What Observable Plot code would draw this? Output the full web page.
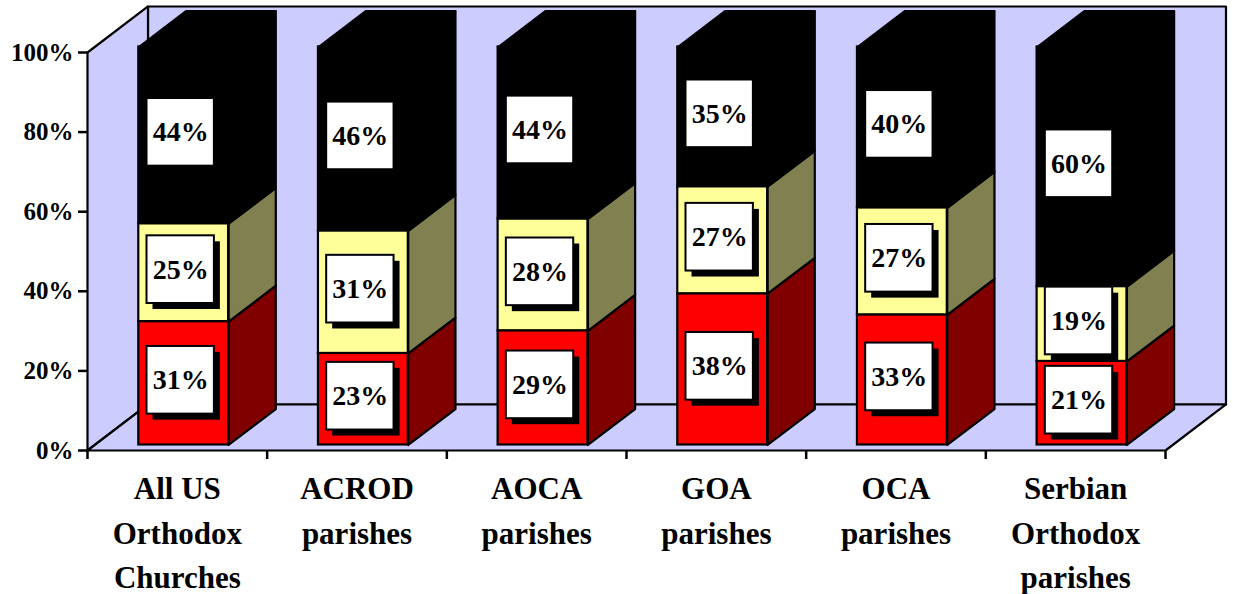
<!DOCTYPE html>
<html>
<head>
<meta charset="utf-8">
<script src="https://cdn.jsdelivr.net/npm/d3@7"></script>
<script src="https://cdn.jsdelivr.net/npm/@observablehq/plot@0.6"></script>
<style>
html,body{margin:0;padding:0;background:#fff;color:#000}
svg{display:block}
</style>
</head>
<body>
<div id="chart"></div>
<script>
const categories = ["All US\nOrthodox\nChurches","ACROD\nparishes","AOCA\nparishes","GOA\nparishes","OCA\nparishes","Serbian\nOrthodox\nparishes"];
const redValues = [31,23,28.7,38,32.7,21];
const yellowValues = [24.6,30.8,28.1,26.9,26.9,18.8];
const blackValues = [44.4,46.2,43.2,35.1,40.4,60.2];
const redLabels = ["31%","23%","29%","38%","33%","21%"];
const yellowLabels = ["25%","31%","28%","27%","27%","19%"];
const blackLabels = ["44%","46%","44%","35%","40%","60%"];
const yTicks = [0,20,40,60,80,100];
const xTicks = [0,1,2,3,4,5,6];

// oblique 3D projection, in data units
const depthX = 0.3367, depthY = 11.56;
const frontT = 0.12, backT = 0.9;
const barLeft = 0.245, barRight = 0.745;
const boxW = 0.375, boxH = 17;
const serif = "'Liberation Serif', serif";
const P = (x, v, t) => ({x: x + t * depthX, y: v + t * depthY});
const poly = (id, pts) => pts.map(p => ({...p, id}));

const wallMark = pts => Plot.line(poly("w", pts), {x:"x", y:"y", z:"id", fill:"#CCCCFF", stroke:"#000", strokeWidth:2.2, curve:"linear-closed"});

const series = [
  {vals:redValues, front:"#FF0000", side:"#800000", labels:redLabels},
  {vals:yellowValues, front:"#FFFF99", side:"#808050", labels:yellowLabels},
  {vals:blackValues, front:"#000000", side:"#000000", labels:blackLabels}
];
categories.forEach((_, i) => {
  let b = 0;
  series.forEach(s => { s.rows = s.rows || []; 
    s.rows.push({i, y0:b, y1:b+s.vals[i], label:s.labels[i]}); b += s.vals[i]; });
});

const barMarks = series.flatMap((s) => {
  const front = s.rows.map(r => {
    const a = P(r.i+barLeft, r.y0, frontT), c = P(r.i+barRight, r.y1, frontT);
    return {x1:a.x, x2:c.x, y1:a.y, y2:c.y};
  });
  const side = s.rows.flatMap(r => poly("s"+r.i, [
    P(r.i+barRight, r.y0, frontT), P(r.i+barRight, r.y1, frontT),
    P(r.i+barRight, r.y1, backT), P(r.i+barRight, r.y0, backT)]));
  return [
    Plot.line(side, {x:"x", y:"y", z:"id", fill:s.side, stroke:"#000", strokeWidth:2.2, curve:"linear-closed"}),
    Plot.rect(front, {x1:"x1", x2:"x2", y1:"y1", y2:"y2", fill:s.front, stroke:"#000", strokeWidth:2.2})
  ];
});

const tops = series[2].rows.flatMap(r => poly("t"+r.i, [
  P(r.i+barLeft, r.y1, frontT), P(r.i+barRight, r.y1, frontT),
  P(r.i+barRight, r.y1, backT), P(r.i+barLeft, r.y1, backT)]));

const boxes = series.flatMap(s => s.rows.map(r => {
  const c = P(r.i+(barLeft+barRight)/2, (r.y0+r.y1)/2, frontT);
  return {x1:c.x-boxW/2, x2:c.x+boxW/2, y1:c.y-boxH/2, y2:c.y+boxH/2, cx:c.x, cy:c.y, label:r.label};
}));

const chart = Plot.plot({
  width:1233, height:594,
  marginLeft:87, marginRight:68, marginTop:52, marginBottom:144,
  style:{background:"#fff", overflow:"visible", fontFamily:serif},
  x:{domain:[0,6], axis:null},
  y:{domain:[0,100], axis:null},
  marks:[
    wallMark([P(0,0,1),P(6,0,1),P(6,100,1),P(0,100,1)]),
    wallMark([P(0,0,0),P(0,0,1),P(0,100,1),P(0,100,0)]),
    wallMark([P(0,0,0),P(6,0,0),P(6,0,1),P(0,0,1)]),
    ...barMarks,
    Plot.line(tops, {x:"x", y:"y", z:"id", fill:"#000", stroke:"#000", strokeWidth:2, curve:"linear-closed"}),
    Plot.rect(boxes, {x1:"x1", x2:"x2", y1:"y1", y2:"y2", fill:"#000", dx:3, dy:3}),
    Plot.rect(boxes, {x1:"x1", x2:"x2", y1:"y1", y2:"y2", fill:"#fff", stroke:"#000", strokeWidth:2, dx:-3, dy:-3}),
    Plot.text(boxes, {x:"cx", y:"cy", text:"label", dx:-3, dy:-3, fontFamily:serif, fontWeight:"bold", fontSize:28, fill:"#000"}),
    Plot.axisY({ticks:yTicks, tickFormat:d=>d+"%", tickSize:9, tickPadding:5, strokeWidth:2.5, label:null, fontFamily:serif, fontWeight:"bold", fontSize:25, fill:"#000"}),
    Plot.axisX({ticks:xTicks, tickFormat:()=>"", tickSize:9, strokeWidth:2.5, label:null}),
    Plot.text(categories, {x:(d,i)=>i+0.5, y:()=>0, text:d=>d, dy:17, lineAnchor:"top", lineHeight:1.435, fontFamily:serif, fontWeight:"bold", fontSize:31, fill:"#000"})
  ]
});
document.getElementById("chart").appendChild(chart);
</script>
</body>
</html>
